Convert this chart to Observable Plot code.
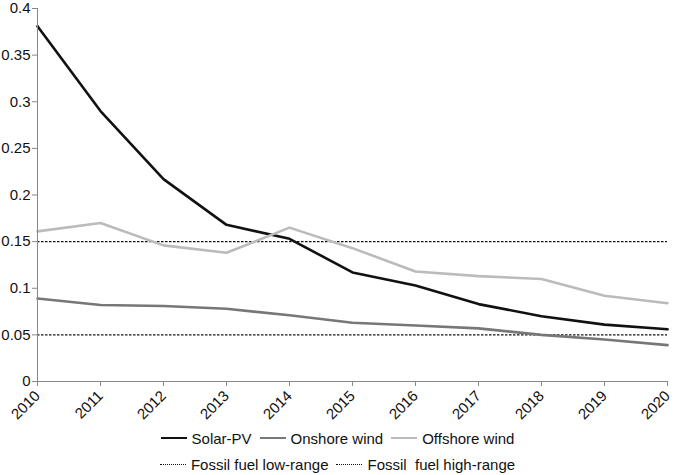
<!DOCTYPE html>
<html>
<head>
<meta charset="utf-8">
<script src="https://cdn.jsdelivr.net/npm/d3@7"></script>
<script src="https://cdn.jsdelivr.net/npm/@observablehq/plot@0.6"></script>
<style>
  body { margin: 0; background: white; font-family: "Liberation Sans", Arial, sans-serif; }
  #chart { width: 675px; }
  .legend { width: 675px; font-size: 15px; color: #111; }
  .row { display: flex; justify-content: center; align-items: center; height: 26px; }
  .item { display: flex; align-items: center; margin: 0 4px; }
  .sw { width: 26px; height: 0; margin-right: 5px; }
</style>
</head>
<body>
<div id="chart"></div>
<div class="legend" id="legend"></div>
<script>
const years = [2010, 2011, 2012, 2013, 2014, 2015, 2016, 2017, 2018, 2019, 2020];
const solarPV = [0.381, 0.290, 0.217, 0.168, 0.153, 0.117, 0.103, 0.083, 0.070, 0.061, 0.056];
const onshoreWind = [0.089, 0.082, 0.081, 0.078, 0.071, 0.063, 0.060, 0.057, 0.050, 0.045, 0.039];
const offshoreWind = [0.161, 0.170, 0.146, 0.138, 0.165, 0.143, 0.118, 0.113, 0.110, 0.092, 0.084];
const fossilLow = 0.05;
const fossilHigh = 0.15;
const yTicks = [0, 0.05, 0.1, 0.15, 0.2, 0.25, 0.3, 0.35, 0.4];

const series = [
  { name: "Solar-PV", values: solarPV, color: "#111111" },
  { name: "Onshore wind", values: onshoreWind, color: "#777777" },
  { name: "Offshore wind", values: offshoreWind, color: "#bbbbbb" }
];
const rows = series.flatMap(s => years.map((y, i) => ({ year: y, value: s.values[i], name: s.name })));

let chart = Plot.plot({
  width: 675,
  height: 422,
  marginLeft: 37,
  marginRight: 8,
  marginTop: 8,
  marginBottom: 41,
  style: { "font-size": "15px", "font-family": "Liberation Sans, Arial, sans-serif", color: "#111" },
  x: { domain: [2010, 2020], label: null },
  y: { domain: [0, 0.4], label: null },
  color: { domain: series.map(s => s.name), range: series.map(s => s.color) },
  marks: [
    // fossil fuel range, dotted
    Plot.ruleY([fossilLow, fossilHigh], { stroke: "#111", strokeWidth: 1.2, strokeDasharray: "2.5,1.5" }),
    Plot.line(rows, { x: "year", y: "value", z: "name", stroke: "name", strokeWidth: 2.6 }),
    Plot.ruleY([0], { stroke: "#888" }),
    Plot.ruleX([2010], { stroke: "#888" }),
    Plot.axisY({ ticks: yTicks, tickFormat: d3.format("~g"), tickSize: 5, stroke: "#888", tickPadding: 2 }),
    Plot.axisX({ ticks: years, tickFormat: d3.format("d"), tickRotate: -45, tickSize: 5, stroke: "#888" })
  ]
});
d3.select("#chart").append(() => chart);

const legend = d3.select("#legend");
const r1 = legend.append("div").attr("class", "row").style("margin-top", "3px");
series.forEach(s => {
  const it = r1.append("div").attr("class", "item");
  it.append("div").attr("class", "sw").style("border-top", `2.6px solid ${s.color}`);
  it.append("span").text(s.name);
});
const r2 = legend.append("div").attr("class", "row");
["Fossil fuel low-range", "Fossil\u00a0 fuel high-range"].forEach(n => {
  const it = r2.append("div").attr("class", "item");
  it.append("div").attr("class", "sw").style("border-top", "1px dotted #111");
  it.append("span").text(n);
});
</script>
</body>
</html>
